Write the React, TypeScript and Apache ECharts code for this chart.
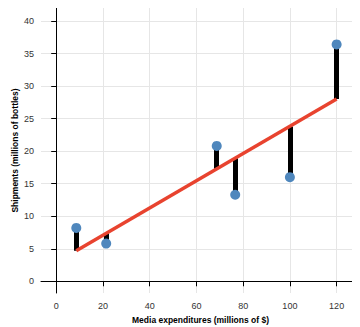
import React, { useEffect, useRef } from "react";
import * as echarts from "echarts";

const mediaSpend = [8.6, 21.4, 68.7, 76.6, 100.0, 120.0];
const shipments = [8.2, 5.8, 20.8, 13.3, 16.0, 36.4];
const fitted = [4.7, 7.4, 17.3, 18.9, 23.8, 28.0];
const xTitle = "Media expenditures (millions of $)";
const yTitle = "Shipments (millions of bottles)";

export default function App() {
  const ref = useRef<HTMLDivElement>(null);
  useEffect(() => {
    const chart = echarts.init(ref.current!, null, { renderer: "svg" });
    const font = "'Liberation Sans', Arial, Helvetica, sans-serif";
    const points = mediaSpend.map((x, i) => [x, shipments[i]]);
    const residuals = mediaSpend.map((x, i) => ({
      coords: [
        [x, shipments[i]],
        [x, fitted[i]],
      ],
    }));
    const n = mediaSpend.length - 1;
    const fitLine = [
      [mediaSpend[0], fitted[0]],
      [mediaSpend[n], fitted[n]],
    ];
    const axisCommon = {
      axisLine: { show: true, lineStyle: { color: "#000", width: 1 } },
      axisTick: { show: true, length: 5, lineStyle: { color: "#000" } },
      axisLabel: {
        color: "#333",
        fontSize: 9,
        fontFamily: font,
        showMinLabel: false,
        showMaxLabel: false,
      },
      splitLine: {
        show: true,
        showMinLine: false,
        showMaxLine: false,
        lineStyle: { color: "#e6e6e6", width: 1 },
      },
      nameLocation: "middle" as const,
      nameMoveOverlap: false,
      nameTextStyle: {
        fontSize: 8.5,
        fontWeight: "bold" as const,
        fontFamily: font,
        color: "#000",
      },
    };
    chart.setOption({
      animation: false,
      grid: {
        left: 41,
        right: 0,
        top: 8,
        bottom: 34,
        containLabel: false,
        outerBoundsMode: "none",
      },
      xAxis: {
        type: "value",
        min: -6.5,
        max: 130,
        minInterval: 20,
        maxInterval: 20,
        splitNumber: 7,
        name: xTitle,
        nameGap: 22,
        ...axisCommon,
        axisLabel: { ...axisCommon.axisLabel, margin: 8 },
      },
      yAxis: {
        type: "value",
        min: -1.8,
        max: 42,
        minInterval: 5,
        maxInterval: 5,
        splitNumber: 9,
        name: yTitle,
        nameGap: 22,
        ...axisCommon,
        axisLabel: { ...axisCommon.axisLabel, margin: 7 },
      },
      series: [
        {
          type: "lines",
          coordinateSystem: "cartesian2d",
          data: residuals,
          lineStyle: { color: "#000", width: 5, opacity: 1, cap: "butt" },
          silent: true,
          z: 1,
        },
        {
          type: "line",
          data: fitLine,
          symbol: "none",
          lineStyle: { color: "#e8432f", width: 3.5 },
          z: 2,
        },
        {
          type: "scatter",
          data: points,
          symbolSize: 10,
          itemStyle: { color: "#4f87bd", opacity: 1 },
          z: 3,
        },
      ],
    });
    return () => chart.dispose();
  }, []);
  return <div ref={ref} style={{ width: 360, height: 327, marginLeft: -8, marginTop: -8 }} />;
}
